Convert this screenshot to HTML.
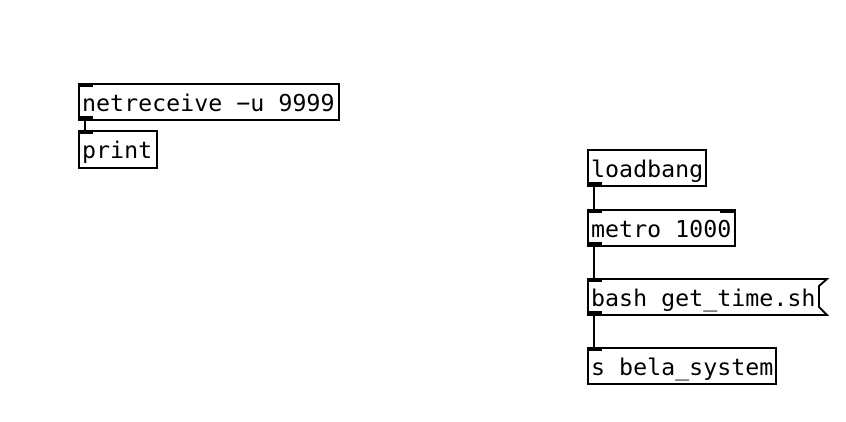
<!DOCTYPE html>
<html><head><style>body{margin:0;background:#fff}</style></head><body>
<svg width="846" height="422" xmlns="http://www.w3.org/2000/svg" style="display:block">
<g fill="#fff" stroke="#000" stroke-width="2">
<rect x="79" y="84" width="260" height="36"/>
<rect x="79" y="131" width="78" height="37"/>
<rect x="588" y="150" width="118" height="36"/>
<rect x="588" y="210" width="147" height="36"/>
<path d="M588 279 H827 L819 286 V307 L827 315 H588 Z"/>
<rect x="588" y="348" width="188" height="36"/>
</g>
<g stroke="#000" stroke-width="2">
<line x1="85" y1="120" x2="85" y2="131"/>
<line x1="594" y1="186" x2="594" y2="210"/>
<line x1="594" y1="246" x2="594" y2="279"/>
<line x1="594" y1="315" x2="594" y2="348"/>
</g>
<g fill="#000">
<rect x="78" y="83" width="15" height="4"/><rect x="78" y="116" width="15" height="4"/>
<rect x="78" y="130" width="15" height="4"/>
<rect x="587" y="182" width="15" height="4"/>
<rect x="587" y="209" width="15" height="4"/><rect x="720" y="209" width="15" height="4"/><rect x="587" y="242" width="15" height="4"/>
<rect x="587" y="278" width="15" height="4"/><rect x="587" y="311" width="15" height="4"/>
<rect x="587" y="347" width="15" height="4"/>
</g>
<g font-family="DejaVu Sans Mono, Liberation Mono, monospace" font-size="23.3" fill="#000">
<text x="82" y="111">netreceive −u 9999</text>
<text x="82" y="158">print</text>
<text x="591" y="177">loadbang</text>
<text x="591" y="237">metro 1000</text>
<text x="591" y="306">bash get_time.sh</text>
<text x="591" y="375">s bela_system</text>
</g>
</svg>
</body></html>
